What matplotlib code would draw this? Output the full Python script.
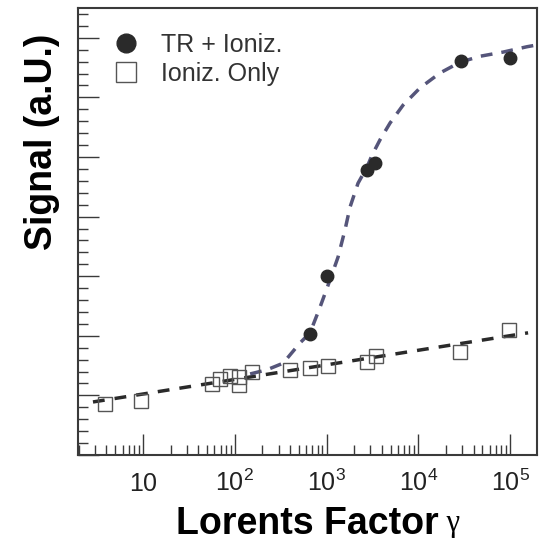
#!/usr/bin/env python3
# -*- coding: utf-8 -*-

import matplotlib
matplotlib.use("Agg")
import matplotlib.pyplot as plt
from matplotlib.ticker import FixedLocator, MultipleLocator, NullFormatter

# TR + ionization data points (filled circles)
tr_gamma = [660, 1000, 2750, 3400, 29000, 100000]
tr_signal = [2.03, 3.00, 4.78, 4.90, 6.61, 6.66]

# ionization only data points (open squares)
ion_gamma = [3.85, 9.5, 56, 69, 89, 111, 111, 154, 400, 660, 1040, 2750, 3460, 28500, 97000]
ion_signal = [0.86, 0.91, 1.19, 1.28, 1.33, 1.31, 1.17, 1.39, 1.43, 1.46, 1.49, 1.56, 1.66, 1.73, 2.10]

# dashed curve through TR + ionization points
tr_fit_gamma = [147, 224, 336, 514, 661, 849, 1092, 1334, 1590, 1803, 2203, 2761, 3130,
                3830, 4920, 6820, 10450, 17260, 28500, 47100, 83900, 153000, 197000]
tr_fit_signal = [1.36, 1.43, 1.54, 1.88, 2.05, 2.48, 2.94, 3.32, 3.78, 4.16, 4.56, 4.83, 5.03,
                 5.29, 5.57, 5.87, 6.16, 6.41, 6.59, 6.69, 6.76, 6.85, 6.88]

# dashed line through ionization-only points
ion_fit_gamma = [2.85, 157000]
ion_fit_signal = [0.89, 2.05]

x_ticks = [10, 100, 1000, 10000, 100000]
x_tick_labels = [r"$\mathregular{10}$", r"$\mathregular{10^{2}}$", r"$\mathregular{10^{3}}$",
                 r"$\mathregular{10^{4}}$", r"$\mathregular{10^{5}}$"]


def main():
    plt.rcParams["font.family"] = ["Liberation Sans", "DejaVu Sans"]
    plt.rcParams["mathtext.fontset"] = "custom"
    plt.rcParams["mathtext.rm"] = "Liberation Sans"
    plt.rcParams["mathtext.it"] = "Liberation Sans:italic"
    plt.rcParams["mathtext.bf"] = "Liberation Sans:bold"

    frame = "#3a3a3a"
    fig = plt.figure(figsize=(5.42, 5.5), dpi=100)
    ax = fig.add_axes([0.144, 0.1727, 0.847, 0.8128])

    ax.plot(ion_fit_gamma, ion_fit_signal, color="#2a2a2a", lw=2.5, dashes=(3.4, 2.9), zorder=2)
    ax.plot(tr_fit_gamma, tr_fit_signal, color="#55557a", lw=2.5, dashes=(3.4, 2.6), zorder=2)

    ax.plot(tr_gamma, tr_signal, "o", color="#2a2a2a", ms=9, ls="none", zorder=3,
            label="TR + Ioniz.")
    ax.plot(ion_gamma, ion_signal, "s", mfc="none", mec="#555555", mew=1.0, ms=9.5,
            ls="none", zorder=3, label="Ioniz. Only")

    ax.set_xscale("log")
    ax.set_xlim(1.96, 1.97e5)
    ax.set_ylim(0, 7.5)

    ax.xaxis.set_major_locator(FixedLocator(x_ticks))
    ax.set_xticklabels(x_tick_labels)
    ax.xaxis.set_minor_formatter(NullFormatter())
    ax.yaxis.set_major_locator(MultipleLocator(1))
    ax.yaxis.set_minor_locator(MultipleLocator(0.2))
    ax.set_yticklabels([])

    ax.tick_params(which="both", direction="in", color=frame, width=1.0,
                   top=False, right=False)
    ax.tick_params(which="major", length=15)
    ax.tick_params(which="minor", length=7.5)
    ax.tick_params(axis="x", which="major", labelsize=18, labelcolor="#222222", pad=26)
    plt.setp(ax.get_xticklabels(), va="baseline")

    for sp in ax.spines.values():
        sp.set_color(frame)
        sp.set_linewidth(1.5)

    xl = ax.set_xlabel("Lorents Factor", fontsize=27, fontweight="bold", labelpad=7)
    ax.annotate(" \u03b3", xy=(1, 0.12), xycoords=xl, va="bottom", ha="left",
                fontsize=22, family="Liberation Serif")
    ax.set_ylabel("Signal (a.U.)", fontsize=27, fontweight="bold")
    ax.yaxis.set_label_coords(-0.04, 0.70)

    leg = ax.legend(loc="upper left", bbox_to_anchor=(0.055, 0.967), frameon=False,
                    fontsize=18, markerscale=1.5, handlelength=1.0, handletextpad=0.9,
                    labelspacing=0.2, borderaxespad=0.0)
    for t in leg.get_texts():
        t.set_color("#333333")

    fig.savefig("out.png", dpi=100)
    plt.close(fig)


if __name__ == "__main__":
    main()
